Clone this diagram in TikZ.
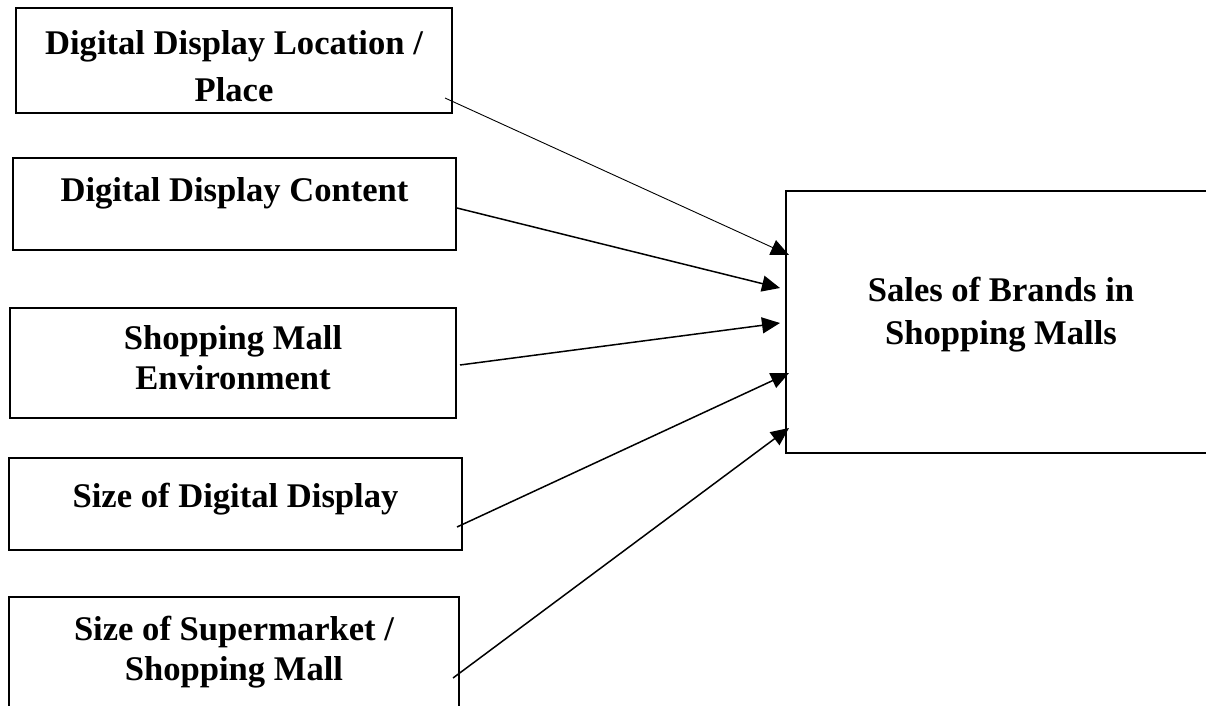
\documentclass[tikz,border=0pt]{standalone}
\usepackage{fontspec}
\setmainfont{Liberation Serif}
\usetikzlibrary{arrows.meta}

\tikzset{
  blk/.style={draw=black, line width=1pt, inner sep=0pt},
  lbl/.style={anchor=north, inner sep=0pt, align=center,
    font=\fontsize{17.3}{20}\selectfont\bfseries},
  arr/.style={-{Triangle[length=9pt,width=8pt]}, line width=0.75pt, black},
}

\begin{document}
\begin{tikzpicture}[x=0.5pt,y=-0.5pt]
			\useasboundingbox (0,0) rectangle (1206,706);
			% factor boxes (left)
			\node[blk, minimum width=218pt, minimum height=52.5pt] (loc) at (234,60.5){};
			\node[blk, minimum width=221.5pt, minimum height=46pt] (content) at (234.5,204){};
			\node[blk, minimum width=223pt, minimum height=55pt] (env) at (233,363){};
			\node[blk, minimum width=226.5pt, minimum height=46pt] (dsize) at (235.5,504){};
			\node[blk, minimum width=225pt, minimum height=71.5pt] (msize) at (234,668.5){};
			% outcome box (right)
			\node[blk, minimum width=215pt, minimum height=131pt] (sales) at (1001,322){};
			
			\node[lbl] (loc-txt) at (234,30) {Digital Display Location /\\[3.5pt]Place};
			\node[lbl] (content-txt) at (234.5,177) {Digital Display Content};
			\node[lbl] (env-txt) at (233,325) {Shopping Mall\\Environment};
			\node[lbl] (dsize-txt) at (235.5,483) {Size of Digital Display};
			\node[lbl] (msize-txt) at (234,616) {Size of Supermarket /\\Shopping Mall};
			\node[lbl] (sales-txt) at (1001,277) {Sales of Brands in\\[1.5pt]Shopping Malls};
			
			% arrow tails sit just inside the boxes
			\coordinate (loc-out) at (445,98);
			\coordinate (content-out) at (457,208);
			\coordinate (env-out) at (460,365);
			\coordinate (dsize-out) at (457,527);
			\coordinate (msize-out) at (453,678);
			
			\path [arr, line width=0.45pt] (loc-out) edge ([xshift=2pt,yshift=33.5pt]sales.west);
			\path [arr] (content-out) edge ([xshift=-2.5pt,yshift=17pt]sales.west);
			\path [arr] (env-out) edge ([xshift=-2.5pt,yshift=-0.5pt]sales.west);
			\path [arr] (dsize-out) edge ([xshift=2pt,yshift=-25.5pt]sales.west);
			\path [arr] (msize-out) edge ([xshift=2pt,yshift=-53pt]sales.west);
\end{tikzpicture}
\end{document}
